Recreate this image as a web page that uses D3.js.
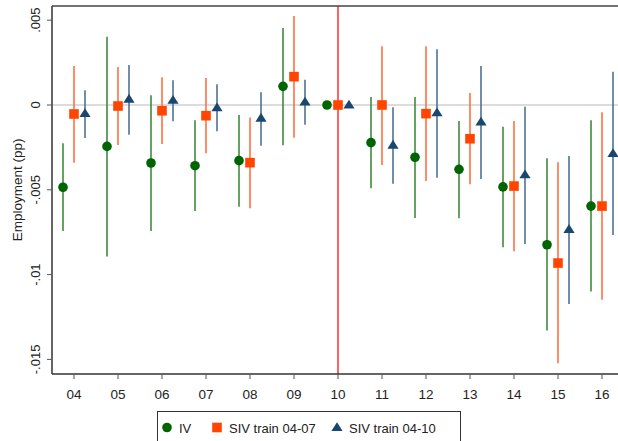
<!DOCTYPE html>
<meta charset="utf-8">
<style>
body { margin: 0; background: #fff; }
text { font-family: "Liberation Sans", Arial, sans-serif; fill: #222; }
.ci { fill: none; stroke-width: 1.6px; }
</style>
<body>
<script src="https://cdn.jsdelivr.net/npm/d3@7"></script>
<script>

// years (x axis)
var years = [4, 5, 6, 7, 8, 9, 10, 11, 12, 13, 14, 15, 16];
var yearLabels = ["04","05","06","07","08","09","10","11","12","13","14","15","16"];

// IV estimates + 95% CI
var iv   = [-0.00485, -0.00244, -0.00342, -0.00358, -0.00328, 0.0011, 0, -0.00222, -0.00308, -0.00379, -0.00483, -0.00824, -0.00596];
var ivLo = [-0.00743, -0.00894, -0.00743, -0.00625, -0.0060, -0.00238, null, -0.00491, -0.00666, -0.00668, -0.00839, -0.01329, -0.01099];
var ivHi = [-0.00226, 0.00403, 0.00057, -0.0009, -0.00059, 0.00454, null, 0.00047, 0.00047, -0.00094, -0.00128, -0.00314, -0.0009];

// SIV train 04-07
var s07   = [-0.00053, -0.00006, -0.00034, -0.00063, -0.0034, 0.00167, 0, 0, -0.00051, -0.00199, -0.00478, -0.00932, -0.00596];
var s07Lo = [-0.0034, -0.00236, -0.0023, -0.00285, -0.00609, -0.00193, null, -0.00354, -0.00448, -0.00468, -0.00863, -0.01523, -0.01148];
var s07Hi = [0.0023, 0.00224, 0.00163, 0.00159, -0.00073, 0.00525, null, 0.00346, 0.00346, 0.00071, -0.00094, -0.00338, -0.00043];

// SIV train 04-10
var s10   = [-0.0005, 0.00035, 0.00028, -0.00016, -0.00077, 0.00018, 0, -0.00236, -0.00045, -0.001, -0.00411, -0.00733, -0.00285];
var s10Lo = [-0.00195, -0.00175, -0.00096, -0.00155, -0.0024, -0.00116, null, -0.00464, -0.00429, -0.00436, -0.0082, -0.01173, -0.00767];
var s10Hi = [0.00087, 0.00236, 0.00146, 0.00122, 0.00075, 0.00149, null, -0.00014, 0.00328, 0.0023, -0.0001, -0.00301, 0.00196];

var yTicks = [0.005, 0, -0.005, -0.01, -0.015];
var yTickLabels = [".005", "0", "-.005", "-.01", "-.015"];

var W = 618, H = 441;
var plot = {left: 52, right: 618, top: 6, bottom: 374};

var x = d3.scaleLinear().domain([4, 16]).range([74, 602]);
var y = d3.scaleLinear().domain([0.005, -0.015]).range([20.2, 359.4]);
var off = 11;

var svg = d3.select("body").append("svg")
    .attr("width", W).attr("height", H);

// zero line
svg.append("line")
    .attr("x1", plot.left).attr("x2", plot.right)
    .attr("y1", y(0)).attr("y2", y(0))
    .attr("stroke", "#d0d0d0").attr("stroke-width", 1.6);

// red line at 2010
svg.append("line")
    .attr("x1", x(10)).attr("x2", x(10))
    .attr("y1", plot.top).attr("y2", plot.bottom)
    .attr("stroke", "#ff3b3b").attr("stroke-width", 1.6);

var series = [
  {name: "IV", v: iv, lo: ivLo, hi: ivHi, dx: -off, line: "#3f8a3f", fill: "#006400", shape: "circle"},
  {name: "SIV train 04-07", v: s07, lo: s07Lo, hi: s07Hi, dx: 0, line: "#ff7040", fill: "#ff4500", shape: "square"},
  {name: "SIV train 04-10", v: s10, lo: s10Lo, hi: s10Hi, dx: off, line: "#4f7194", fill: "#1a476f", shape: "triangle"}
];

function marker(sel, shape, color) {
  if (shape === "circle") {
    sel.append("circle").attr("r", 4.8).attr("fill", color);
  } else if (shape === "square") {
    sel.append("rect").attr("x", -4.8).attr("y", -4.8)
      .attr("width", 9.6).attr("height", 9.6).attr("fill", color);
  } else {
    sel.append("path").attr("d", "M0,-5.2L5.6,3.6L-5.6,3.6Z").attr("fill", color);
  }
}

series.forEach(function(s) {
  var g = svg.append("g");
  years.forEach(function(yr, i) {
    if (s.lo[i] !== null) {
      g.append("line").attr("class", "ci")
        .attr("x1", x(yr) + s.dx).attr("x2", x(yr) + s.dx)
        .attr("y1", y(s.lo[i])).attr("y2", y(s.hi[i]))
        .attr("stroke", s.line);
    }
  });
  years.forEach(function(yr, i) {
    var m = g.append("g").attr("transform", "translate(" + (x(yr) + s.dx) + "," + y(s.v[i]) + ")");
    marker(m, s.shape, s.fill);
  });
});

// frame
svg.append("line").attr("x1", plot.left).attr("x2", plot.right)
    .attr("y1", plot.top).attr("y2", plot.top)
    .attr("stroke", "#444").attr("stroke-width", 1.5);
svg.append("line").attr("x1", plot.left).attr("x2", plot.right)
    .attr("y1", plot.bottom).attr("y2", plot.bottom)
    .attr("stroke", "#333").attr("stroke-width", 1.5);
svg.append("line").attr("x1", plot.left).attr("x2", plot.left)
    .attr("y1", plot.top).attr("y2", plot.bottom)
    .attr("stroke", "#333").attr("stroke-width", 1.5);

// y axis ticks and labels
yTicks.forEach(function(t, i) {
  svg.append("line").attr("x1", plot.left - 5).attr("x2", plot.left)
    .attr("y1", y(t)).attr("y2", y(t)).attr("stroke", "#555").attr("stroke-width", 1);
  svg.append("text")
    .attr("transform", "translate(40," + y(t) + ") rotate(-90)")
    .attr("text-anchor", "middle")
    .style("font-size", "13px")
    .text(yTickLabels[i]);
});

svg.append("text")
    .attr("transform", "translate(22," + y(-0.005) + ") rotate(-90)")
    .attr("text-anchor", "middle")
    .style("font-size", "13.5px")
    .text("Employment (pp)");

// x axis ticks and labels
years.forEach(function(yr, i) {
  svg.append("line").attr("x1", x(yr)).attr("x2", x(yr))
    .attr("y1", plot.bottom).attr("y2", plot.bottom + 5)
    .attr("stroke", "#555").attr("stroke-width", 1);
  svg.append("text")
    .attr("x", x(yr)).attr("y", 399)
    .attr("text-anchor", "middle")
    .style("font-size", "13.5px")
    .text(yearLabels[i]);
});

// legend
var lg = svg.append("g");
lg.append("rect").attr("x", 157.5).attr("y", 411.5)
    .attr("width", 303).attr("height", 40)
    .attr("fill", "#fff").attr("stroke", "#333").attr("stroke-width", 1);
var legX = [167, 217, 337];
series.forEach(function(s, i) {
  var m = lg.append("g").attr("transform", "translate(" + legX[i] + ",427.5)");
  marker(m, s.shape, s.fill);
  lg.append("text").attr("x", legX[i] + 12).attr("y", 432.5)
    .style("font-size", "13px").text(s.name);
});

</script>
</body>
